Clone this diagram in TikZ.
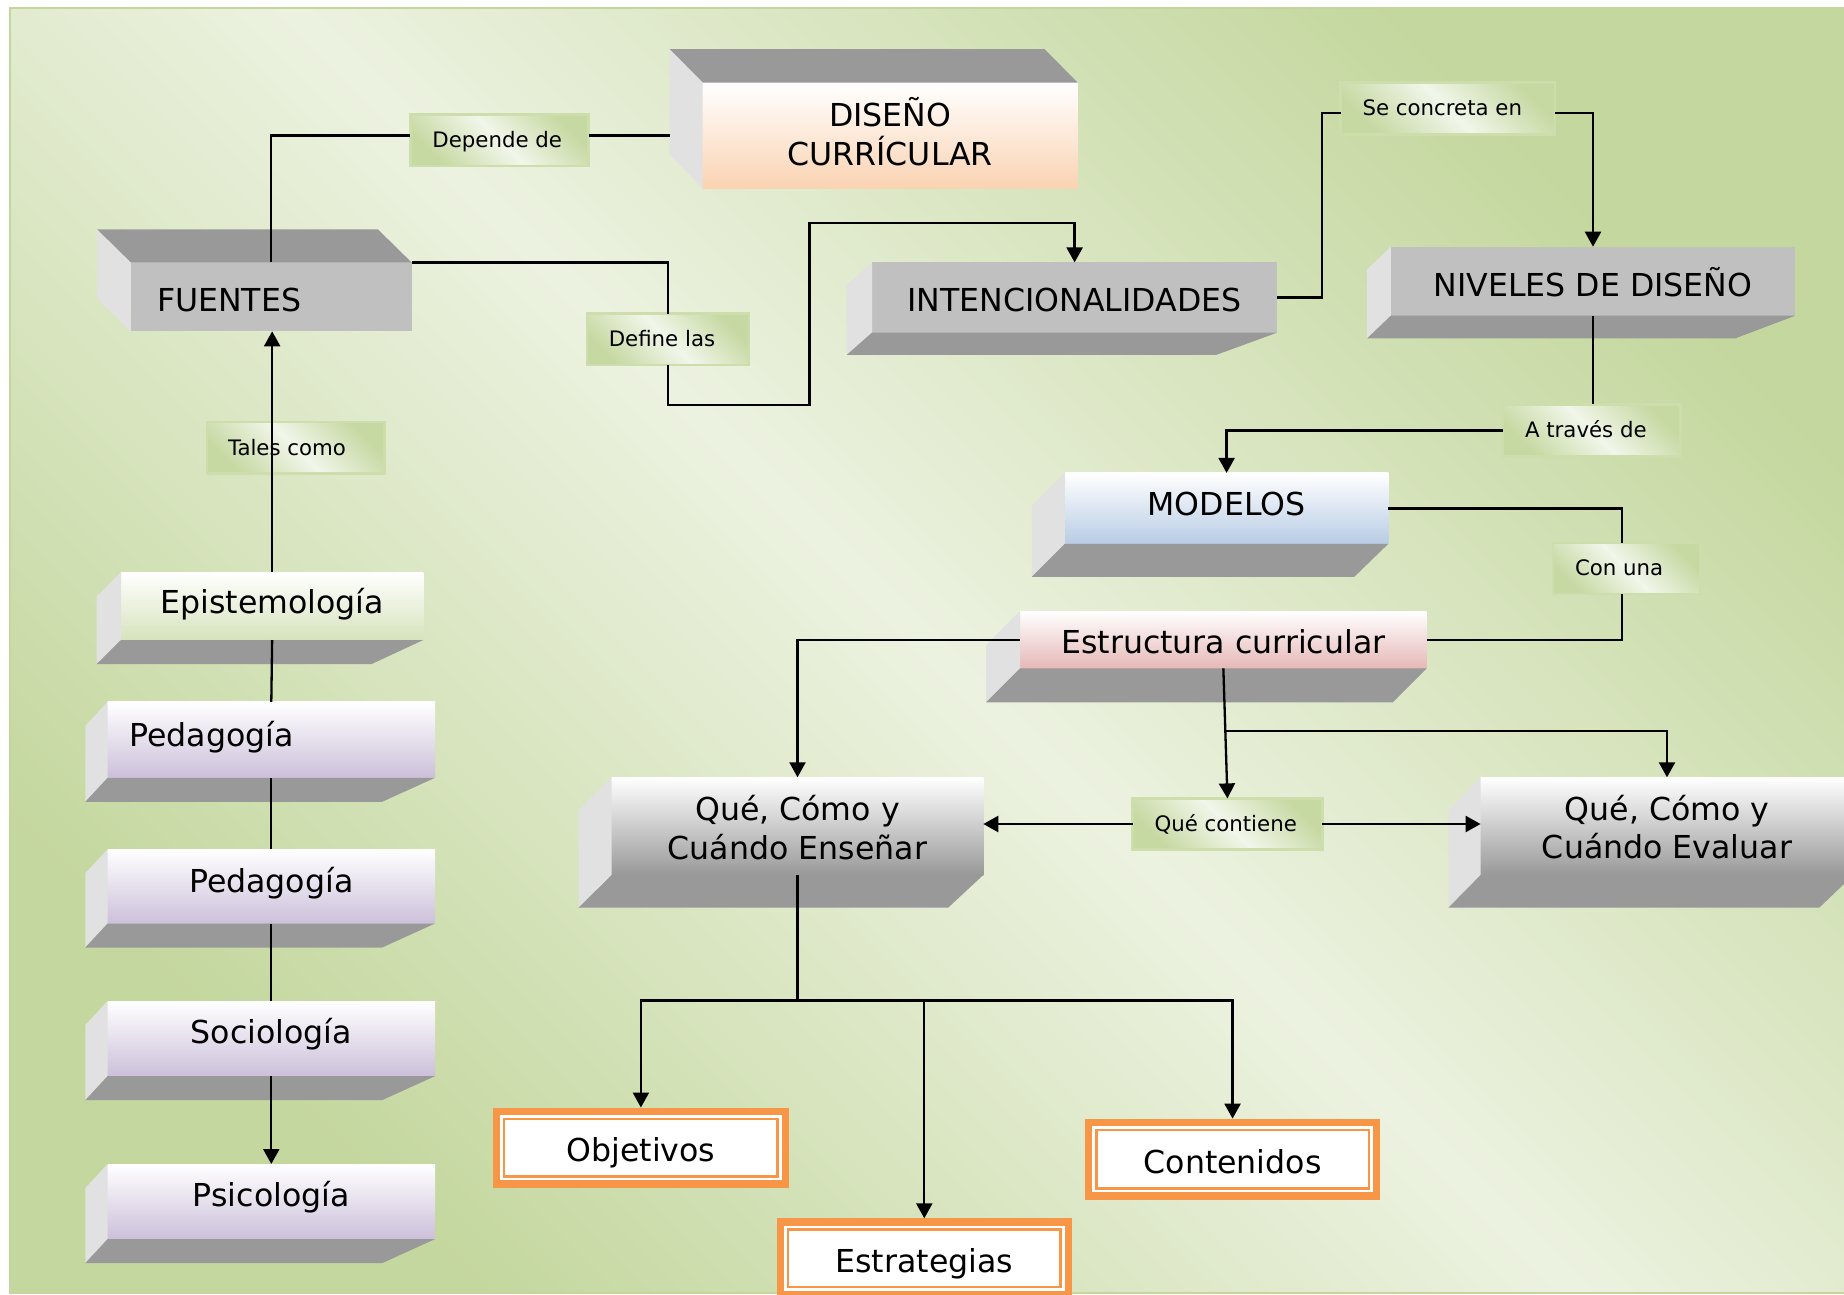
\documentclass[tikz,border=0pt]{standalone}
\usepackage{fontspec}
\setmainfont{DejaVu Sans}
\usetikzlibrary{calc,arrows.meta}
\definecolor{bgD}{RGB}{196,215,158}
\definecolor{bgL}{RGB}{236,242,224}
\definecolor{bgBorder}{RGB}{195,214,155}
\definecolor{lblD}{RGB}{199,217,163}
\definecolor{lblL}{RGB}{241,246,234}
\definecolor{lblBorder}{RGB}{205,221,172}
\definecolor{faceGray}{RGB}{153,153,153}
\definecolor{sideGray}{RGB}{225,225,225}
\definecolor{frontGray}{RGB}{192,192,192}
\definecolor{peach}{RGB}{250,211,178}
\definecolor{skyBlue}{RGB}{184,204,228}
\definecolor{rosePink}{RGB}{229,184,183}
\definecolor{paleGreen}{RGB}{214,227,188}
\definecolor{lavender}{RGB}{204,192,218}
\definecolor{boxOrange}{RGB}{247,150,70}
\newcommand\bigtxt{\fontsize{31.6}{38.3}\selectfont}
\newcommand\lbltxt{\fontsize{21.3}{25}\selectfont}
\newcommand\twolines[2]{\vbox{\halign{\hfil##\hfil\cr #1\cr #2\cr}}}
\newcommand\padl[3]{\makebox[#1pt][l]{\hspace{#2pt}#3}}
% faces of a box extruded up-left: node, dx, dy
\newcommand\facesup[3]{%
  \fill[faceGray] (#1.north west) -- ++(#2,#3) -- ($(#1.north east)+(#2,#3)$) -- (#1.north east) -- cycle;
  \fill[sideGray] (#1.north west) -- ++(#2,#3) -- ($(#1.south west)+(#2,#3)$) -- (#1.south west) -- cycle;}
% faces of a box extruded down-left: node, side dx, dy, right dx
\newcommand\facesdown[4]{%
  \fill[sideGray] (#1.north west) -- ++(#2,#3) -- ($(#1.south west)+(#2,#3)$) -- (#1.south west) -- cycle;
  \fill[faceGray] (#1.south west) -- ($(#1.south west)+(#2,#3)$) -- ($(#1.south east)+(#4,#3)$) -- (#1.south east) -- cycle;}
\begin{document}
\begin{tikzpicture}[x=1pt,y=-1pt,
  wh/.style 2 args={minimum width=#1pt, minimum height=#2pt},
  th/.style={text height=#1pt, text depth=0pt},
  front/.style={inner sep=0pt, outer sep=0pt, anchor=north west, font=\bigtxt, text=black},
  grad/.style={top color=white, bottom color=#1},
  lbl/.style={inner sep=0pt, outer sep=0pt, anchor=north west, font=\lbltxt, text=black,
    draw=lblBorder, line width=2.5pt, left color=lblD, right color=lblD, middle color=lblL,
    shading angle=-45, text height=14.6pt, text depth=0pt},
  obox/.style={inner sep=0pt, outer sep=0pt, anchor=north west, font=\bigtxt, text=black,
    fill=boxOrange, path picture={
      \fill[white] ([xshift=7.3pt,yshift=7.3pt]path picture bounding box.south west) rectangle ([xshift=-7.3pt,yshift=-7.3pt]path picture bounding box.north east);
      \draw[boxOrange, line width=2.7pt] ([xshift=11.35pt,yshift=11.35pt]path picture bounding box.south west) rectangle ([xshift=-11.35pt,yshift=-11.35pt]path picture bounding box.north east);}},
  conn/.style={line width=2.3pt, draw=black},
  arr/.style={conn, -{Triangle[width=16pt,length=15pt]}}]
\useasboundingbox (0,0) rectangle (1844,1294);
\clip (0,0) rectangle (1844,1294);
% background
\fill[white] (0,0) rectangle (1844,1294);
\shade[left color=bgD, right color=bgD, middle color=bgL, shading angle=-45] (10,8.3) rectangle (1860,1292.7);
\draw[bgBorder, line width=2pt] (10,8.3) rectangle (1860,1292.7);

% 3D boxes
\node[front, wh={375}{105.6}, grad=peach, th=59] (diseno) at (702.7,82.7) {\twolines{DISEÑO}{CURRÍCULAR}};
\facesup{diseno}{-33}{-33.5}
\node[front, wh={281}{68.9}, fill=frontGray, th=29.2] (fuentes) at (130.5,262.4) {\padl{281}{26.5}{FUENTES}};
\facesup{fuentes}{-33.5}{-33}
\node[front, wh={405.2}{70.2}, fill=frontGray, th=28] (intenc) at (872,262.4) {INTENCIONALIDADES};
\facesdown{intenc}{-25.3}{22.3}{-61}
\node[front, wh={404.4}{69}, fill=frontGray, th=30] (niveles) at (1390.8,246.7) {NIVELES DE DISEÑO};
\facesdown{niveles}{-23.7}{22.7}{-60}
\node[front, wh={323.4}{70.9}, grad=skyBlue, th=15] (modelos) at (1064.9,472.9) {MODELOS};
\facesdown{modelos}{-33}{33}{-34}
\node[front, wh={406.7}{57.3}, grad=rosePink, th=27.2] (estr) at (1020,611) {Estructura curricular};
\facesdown{estr}{-34}{34}{-34}
\node[front, wh={371.6}{97.7}, grad=faceGray, th=65.7] (ensenar) at (611.7,777.3) {\twolines{Qué, Cómo y}{Cuándo Enseñar}};
\facesdown{ensenar}{-33}{32.5}{-35}
\node[front, wh={372.8}{97.7}, grad=faceGray, th=64.7] (evaluar) at (1480.6,777.3) {\twolines{Qué, Cómo y}{Cuándo Evaluar}};
\facesdown{evaluar}{-32}{32.5}{-34}
\node[front, wh={302.3}{67.7}, grad=paleGreen, th=14.4] (epis) at (121,572.3) {Epistemología};
\facesdown{epis}{-24.3}{24}{-51.6}
\node[front, wh={327.4}{75.9}, grad=lavender, th=12.4] (ped1) at (107.6,701.9) {\padl{327.4}{21.8}{Pedagogía}};
\facesdown{ped1}{-22.3}{24}{-52.8}
\node[front, wh={327.4}{74.3}, grad=lavender, th=11.4] (ped2) at (107.6,849.2) {Pedagogía};
\facesdown{ped2}{-22.3}{24}{-52.8}
\node[front, wh={327.4}{75.1}, grad=lavender, th=10.4] (socio) at (107.6,1001) {Sociología};
\facesdown{socio}{-22.3}{24}{-52.8}
\node[front, wh={327.4}{75.1}, grad=lavender, th=10.8] (psico) at (107.6,1164) {Psicología};
\facesdown{psico}{-22.3}{24}{-52.8}

% orange boxes
\node[obox, wh={296.4}{80}, th=28.4] (objetivos) at (492.7,1107.5) {Objetivos};
\node[obox, wh={295.3}{80.9}, th=29.6] (contenidos) at (1084.9,1118.6) {Contenidos};
\node[obox, wh={295.4}{80}, th=28.8] (estrategias) at (776.6,1218.3) {Estrategias};

% linking phrases
\node[lbl, minimum height=51.6pt] (dep) at (410.4,114.3) {\padl{178.2}{22}{Depende de}};
\node[lbl, minimum height=51.2pt] (define) at (586.8,313.6) {\padl{162.2}{22}{Define las}};
\node[lbl, minimum height=51.7pt] (tales) at (207,422) {\padl{177.6}{21}{Tales como}};
\node[lbl, minimum height=52pt] (se) at (1340.5,82.3) {\padl{214.5}{22}{Se concreta en}};
\node[lbl, minimum height=52pt] (atraves) at (1503,404.4) {\padl{177.5}{22}{A través de}};
\node[lbl, minimum height=51.2pt] (conuna) at (1553,543) {\padl{147}{22}{Con una}};
\node[lbl, minimum height=51.2pt] (qc) at (1132.5,798.4) {\padl{189.9}{22}{Qué contiene}};

% connectors
\draw[conn] (dep.west |- diseno.west) -| (fuentes.north);
\draw[conn] (dep.east |- diseno.west) -- ($(diseno.west)+(-33,0)$);
\draw[conn] (fuentes.north east) -| (define.north);
\draw[arr] (define.south) -- ++(0,40) -| ++(141.7,-182) -| (intenc.north);
\draw[arr] (epis.north) -- (epis.north |- fuentes.south);
\draw[conn] (epis.south) -- (ped1.north);
\draw[conn] (ped1.south) -- (ped2.north);
\draw[conn] (ped2.south) -- (socio.north);
\draw[arr] (socio.south) -- (psico.north);
\draw[conn] (intenc.east) -- ++(44.6,0) |- ([yshift=-5pt]se.west);
\draw[arr] ([yshift=-5pt]se.east) -| (niveles.north);
\draw[conn] (niveles.south) -- (niveles.south |- atraves.north);
\draw[arr] (atraves.west) -| (modelos.north);
\draw[conn] (modelos.east) -| ([xshift=-4.5pt]conuna.north);
\draw[conn] ([xshift=-4.5pt]conuna.south) |- (estr.east);
\draw[arr] (estr.west) -| (ensenar.north);
\draw[arr] (estr.south) -- (qc.north);
\coordinate (j1) at ($(estr.south)!0.48!(qc.north)$);
\draw[arr] (j1) -| (evaluar.north);
\draw[arr] (qc.west) -- (qc.west -| ensenar.east);
\draw[arr] (qc.east) -- (qc.east -| evaluar.west);
\coordinate (j2) at ($(ensenar.south)+(0,125.6)$);
\draw[conn] (ensenar.south) -- (j2);
\draw[arr] (j2) -| (objetivos.north);
\draw[arr] (j2) -| (contenidos.north);
\draw[arr] (j2 -| estrategias.north) -- (estrategias.north);
\end{tikzpicture}
\end{document}
